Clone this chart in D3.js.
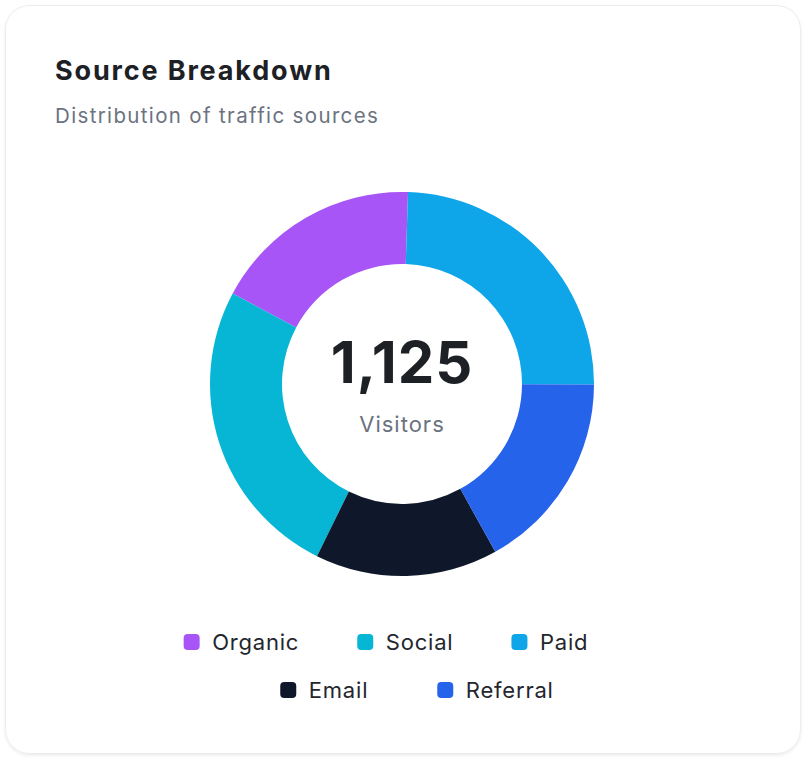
<!DOCTYPE html>
<html>
<head>
<meta charset="utf-8">
<script src="https://cdn.jsdelivr.net/npm/d3@7"></script>
<style>
  html, body { margin: 0; padding: 0; background: #ffffff; }
  svg { display: block; font-family: Inter, "Noto Sans", sans-serif; }
</style>
</head>
<body>
<div id="chart"></div>
<script>
// Data (legend order)
var sources = ["Organic", "Social", "Paid", "Email", "Referral"];
var visitors = [199, 287, 276, 173, 190];
var colors = ["#a855f7", "#06b6d4", "#0ea5e9", "#0f172a", "#2563eb"];
// order the slices are drawn clockwise from the top
var sliceOrder = ["Paid", "Referral", "Email", "Social", "Organic"];
var legendRows = [["Organic", "Social", "Paid"], ["Email", "Referral"]];

var svgWidth = 806;
var svgHeight = 762;

var outerRadius = 192;
var innerRadius = 120;
var center = { x: 402, y: 384 };
var startAngle = 1.8 * Math.PI / 180;

var svg = d3.select("#chart")
  .append("svg")
  .attr("width", svgWidth)
  .attr("height", svgHeight);

// card shadow
var defs = svg.append("defs");
var shadow = defs.append("filter")
  .attr("id", "shadow")
  .attr("x", "-10%").attr("y", "-10%")
  .attr("width", "120%").attr("height", "120%");
shadow.append("feDropShadow")
  .attr("dx", 0).attr("dy", 1.5)
  .attr("stdDeviation", 1.5)
  .attr("flood-color", "#000")
  .attr("flood-opacity", 0.08);

svg.append("rect")
  .attr("x", 5.5)
  .attr("y", 5.5)
  .attr("width", 795)
  .attr("height", 748)
  .attr("rx", 24)
  .attr("fill", "#fff")
  .attr("stroke", "#ececee")
  .attr("filter", "url(#shadow)");

// Title + subtitle
svg.append("text")
  .attr("x", 55)
  .attr("y", 80)
  .attr("fill", "#1d2025")
  .style("font-size", "27px")
  .style("font-weight", 700)
  .style("letter-spacing", "1.85px")
  .text("Source Breakdown");

svg.append("text")
  .attr("x", 55)
  .attr("y", 123)
  .attr("fill", "#6b7280")
  .style("font-size", "20.5px")
  .style("letter-spacing", "1.35px")
  .text("Distribution of traffic sources");

// Donut
var colorScale = d3.scaleOrdinal()
  .domain(sources)
  .range(colors);

var pieData = sources.map(function(s, i) {
  return { source: s, value: visitors[i] };
});

var pie = d3.pie()
  .value(function(d) { return d.value; })
  .sort(function(a, b) {
    return sliceOrder.indexOf(a.source) - sliceOrder.indexOf(b.source);
  })
  .startAngle(startAngle)
  .endAngle(startAngle + 2 * Math.PI);

var arc = d3.arc()
  .innerRadius(innerRadius)
  .outerRadius(outerRadius);

var donut = svg.append("g")
  .attr("transform", `translate(${center.x}, ${center.y})`);

donut.selectAll("path")
  .data(pie(pieData))
  .enter()
  .append("path")
  .attr("d", arc)
  .attr("fill", function(d) { return colorScale(d.data.source); });

var total = d3.sum(visitors);

donut.append("text")
  .attr("text-anchor", "middle")
  .attr("y", -1)
  .attr("fill", "#1d2025")
  .style("font-size", "58px")
  .style("font-weight", 700)
  .style("letter-spacing", "1px")
  .text(d3.format(",")(total));

donut.append("text")
  .attr("text-anchor", "middle")
  .attr("y", 48)
  .attr("fill", "#6b7280")
  .style("font-size", "22px")
  .style("letter-spacing", "1px")
  .text("Visitors");

// Legend
var legendRowY = [642, 690];
var legendRowCenter = [386, 417];
var legendGap = [58, 69];
var swatch = 16;
var swatchGap = 12.5;

legendRows.forEach(function(row, r) {
  var rowG = svg.append("g");
  var x = 0;
  row.forEach(function(name) {
    var item = rowG.append("g")
      .attr("transform", `translate(${x}, 0)`);
    item.append("rect")
      .attr("x", 0)
      .attr("y", -swatch / 2)
      .attr("width", swatch)
      .attr("height", swatch)
      .attr("rx", 4)
      .attr("fill", colorScale(name));
    var label = item.append("text")
      .attr("x", swatch + swatchGap)
      .attr("y", 8)
      .attr("fill", "#23262d")
      .style("font-size", "22px")
      .style("letter-spacing", "0.8px")
      .text(name);
    x += swatch + swatchGap + label.node().getComputedTextLength() + legendGap[r];
  });
  var rowWidth = x - legendGap[r];
  rowG.attr("transform", `translate(${legendRowCenter[r] - rowWidth / 2}, ${legendRowY[r]})`);
});
</script>
</body>
</html>
